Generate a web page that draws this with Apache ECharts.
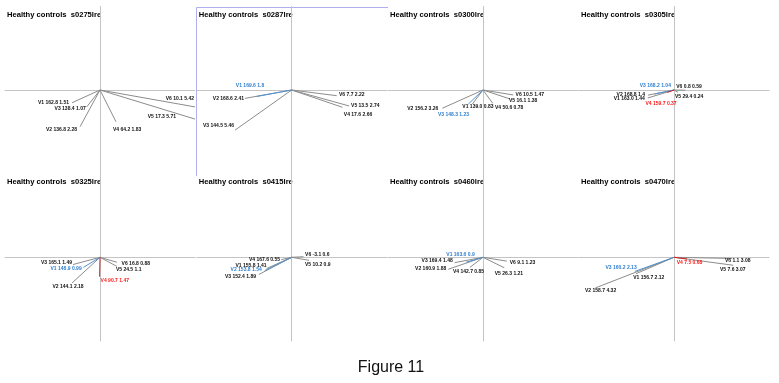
<!DOCTYPE html>
<html><head><meta charset="utf-8">
<script src="https://cdn.jsdelivr.net/npm/echarts@6/dist/echarts.min.js"></script>
<style>html,body{margin:0;padding:0;background:#fff}#c{width:779px;height:383px}</style>
</head><body><div id="c"></div>
<script>
// ---------- DATA ----------
const titles = ['Healthy controls  s0275lre','Healthy controls  s0287lre','Healthy controls  s0300lre','Healthy controls  s0305lre',
                'Healthy controls  s0325lre','Healthy controls  s0415lre','Healthy controls  s0460lre','Healthy controls  s0470lre'];
const leads = ['V1','V2','V3','V4','V5','V6'];
// labelled angle (deg) and magnitude of each lead vector, per panel
const angles = [
  [162.8,136.8,138.4,64.2,17.3,10.1],
  [169.6,168.6,144.5,17.6,13.5,7.7],
  [139.0,156.2,148.3,50.6,16.1,10.5],
  [163.0,168.8,168.2,159.7,29.4,0.8],
  [148.9,144.1,165.1,90.7,24.5,16.8],
  [155.8,153.8,152.4,167.6,10.2,-3.1],
  [163.6,160.9,169.4,142.7,26.3,9.1],
  [156.7,158.7,160.2,7.5,7.6,1.1]
];
const mags = [
  [1.51,2.28,1.07,1.83,5.71,5.42],
  [1.8,2.41,5.46,2.66,2.74,2.22],
  [0.83,3.26,1.23,0.78,1.38,1.47],
  [1.44,1.4,1.04,0.37,0.24,0.59],
  [0.99,2.18,1.49,1.47,1.1,0.88],
  [1.41,1.54,1.89,0.55,0.9,0.6],
  [0.9,1.88,1.48,0.85,1.21,1.23],
  [2.12,4.32,2.13,0.68,3.07,3.08]
];
// drawn vector end points (x, y), axis units
const endX = [
  [-1.47,-1.05,-0.70,0.84,5.00,5.00],
  [-1.84,-2.46,-2.98,2.67,3.02,2.37],
  [-0.56,-2.14,-0.77,0.51,1.42,1.59],
  [-1.38,-1.37,-1.02,-0.35,0.21,0.59],
  [-0.87,-1.47,-1.42,-0.02,0.89,0.89],
  [-1.32,-1.42,-1.72,-0.55,0.91,0.62],
  [-0.89,-1.83,-1.49,-0.69,1.12,1.25],
  [-1.99,-4.13,-2.06,0.69,3.12,3.05]
];
const endY = [
  [-0.67,-1.93,-0.89,-1.67,-1.53,-0.89],
  [-0.34,-0.44,-2.11,-0.91,-0.84,-0.30],
  [-0.74,-0.96,-0.74,-0.70,-0.47,-0.26],
  [-0.42,-0.27,-0.21,-0.13,-0.12,-0.01],
  [-0.53,-1.35,-0.38,-1.02,-0.48,-0.26],
  [-0.59,-0.70,-0.90,-0.12,-0.16,0.03],
  [-0.26,-0.63,-0.28,-0.53,-0.55,-0.20],
  [-0.86,-1.61,-0.74,-0.09,-0.42,-0.06]
];
// which lead is highlighted (b = blue, r = red)
const highlight = [
  ['','','','','',''],
  ['b','','','','',''],
  ['','','b','','',''],
  ['','','b','r','',''],
  ['b','','','r','',''],
  ['','b','','','',''],
  ['b','','','','',''],
  ['','','b','r','','']
];
// ---------- LAYOUT / STYLE ----------
const labelOffsets = [
  [[-3,0,'right'],[-3,3,'right'],[-1,2,'right'],[-3,8,'left'],[-19,-2,'right'],[-1,-8,'right']],
  [[-6.7,-10.5,'center'],[-1,0.7,'right'],[-1,-4,'right'],[1.4,7.7,'left'],[2,0,'left'],[2.3,-0.7,'left']],
  [[-10,2.7,'left'],[-4,0.4,'right'],[0.7,11,'right'],[2.3,4,'left'],[-1,2,'left'],[2.4,-0.7,'left']],
  [[-3,1,'right'],[-3,-1,'right'],[16.3,-8,'right'],[9.3,11.3,'right'],[-3,4.5,'left'],[-9,-4,'left']],
  [[-1.8,1.7,'right'],[-4,3.7,'center'],[-1,-2.2,'right'],[1,4.3,'left'],[-1,3.5,'left'],[4.7,1,'left']],
  [[0,-3,'right'],[-3,-0.6,'right'],[-3,2.3,'right'],[-1.2,-0.3,'right'],[-4,4.6,'left'],[1.6,-1.7,'left']],
  [[8.6,-8,'right'],[-2,-0.3,'right'],[-2,-1.6,'right'],[-17,4.7,'left'],[-9.5,5.5,'left'],[3,1.2,'left']],
  [[-3,3.7,'left'],[-10.5,3,'left'],[1.8,-3.7,'right'],[-10.4,3.7,'left'],[-13.3,4.8,'left'],[-7,2.6,'left']]
];
const gridLeft = [5,196.7,388,579];
const gridTop = [6.4,173.7];
const GW = 190, GH = 167.2;
const lineColor = {'':'#8c8c8c', b:'#4f92d2', r:'#d82020'};
const textColor = {'':'#111', b:'#2f7fd0', r:'#ff1a1a'};

const grids=[], xAxes=[], yAxes=[], series=[], graphics=[];
for (let p=0;p<8;p++){
  const col=p%4, row=Math.floor(p/4);
  grids.push({left:gridLeft[col], top:gridTop[row], width:GW, height:GH, containLabel:false});
  const ax = {axisLine:{show:true,onZero:true,lineStyle:{color:'#c4c4c4',width:1}},axisTick:{show:false},axisLabel:{show:false},splitLine:{show:false}};
  xAxes.push(Object.assign({type:'value',gridIndex:p,min:-5,max:5},ax));
  yAxes.push(Object.assign({type:'value',gridIndex:p,min:-4.4,max:4.4},ax));
  const data = leads.map((n,i)=>[endX[p][i], endY[p][i], i]);
  series.push({
    type:'custom', xAxisIndex:p, yAxisIndex:p, clip:false, data:data, encode:{x:0,y:1},
    renderItem:(params, api)=>{
      const i = api.value(2);
      const o = api.coord([0,0]);
      const e = api.coord([api.value(0), api.value(1)]);
      const h = highlight[p][i];
      const off = labelOffsets[p][i];
      return {type:'group', children:[
        {type:'line', z2: h?10:1, shape:{x1:o[0],y1:o[1],x2:e[0],y2:e[1]}, style:{stroke:lineColor[h],lineWidth:1}},
        {type:'text', z2:20, x:e[0]+off[0], y:e[1]+off[1], style:{
          text: leads[i]+' '+angles[p][i].toFixed(1)+' '+mags[p][i],
          fill:textColor[h], font:'bold 5px "Liberation Sans", Arial', align:off[2], verticalAlign:'middle'}}
      ]};
    }
  });
  graphics.push({type:'text', left:gridLeft[col]+2, top:gridTop[row]+4.5, style:{text:titles[p], fill:'#000', font:'bold 7.6px "Liberation Sans", Arial'}});
}
// selection frame around second panel
graphics.push({type:'line', shape:{x1:196.5,y1:7.5,x2:388,y2:7.5}, style:{stroke:'#b0b0ec',lineWidth:1}});
graphics.push({type:'line', shape:{x1:196.5,y1:7.5,x2:196.5,y2:176}, style:{stroke:'#b0b0ec',lineWidth:1}});
graphics.push({type:'text', x:391, y:368, style:{text:'Figure 11', fill:'#111', font:'16px "Liberation Sans", Arial', align:'center', verticalAlign:'middle'}});

const chart = echarts.init(document.getElementById('c'), null, {renderer:'canvas'});
chart.setOption({animation:false, backgroundColor:'#fff', grid:grids, xAxis:xAxes, yAxis:yAxes, series:series, graphic:graphics});
</script></body></html>
